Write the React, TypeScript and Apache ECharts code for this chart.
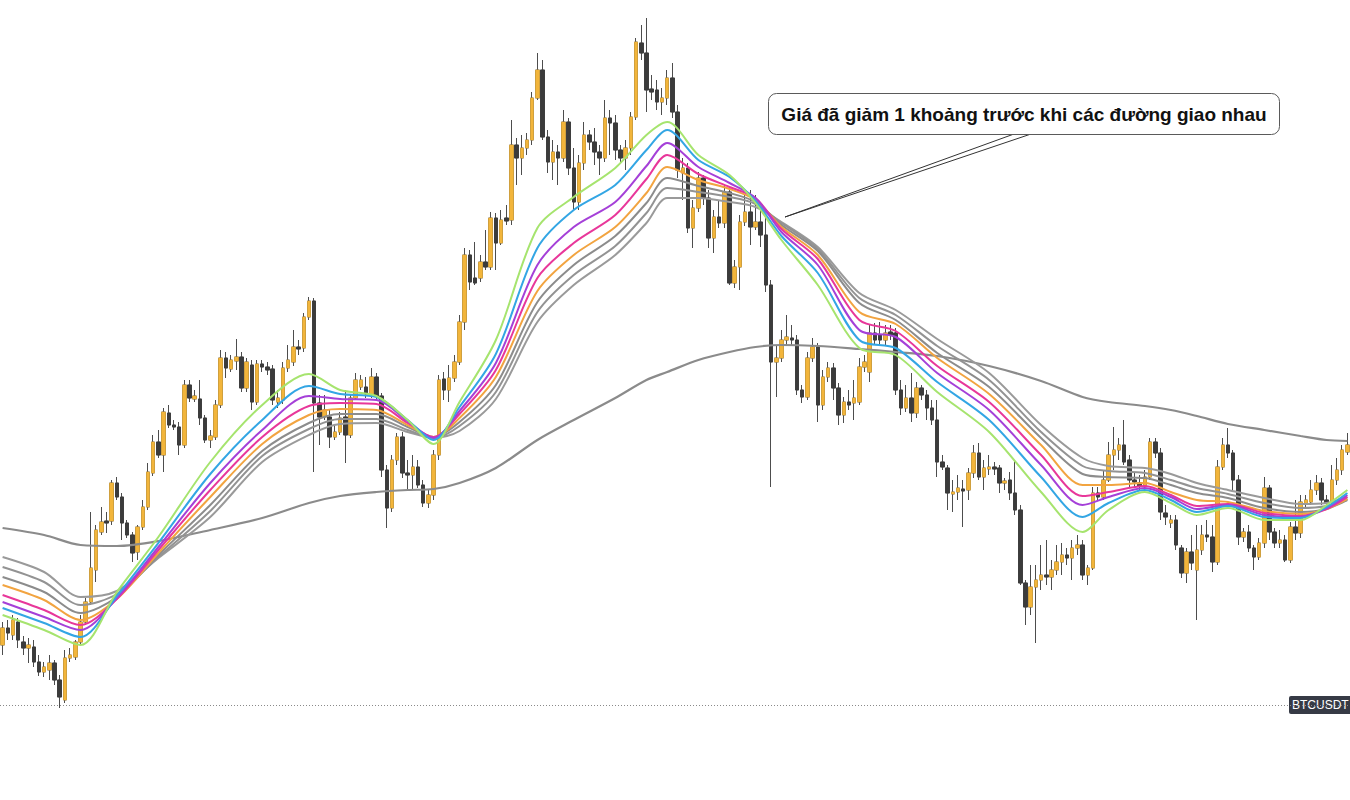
import React, { useEffect, useRef } from "react";
import * as echarts from "echarts";

// Candles: [open, close, low, high]
const candles: number[][] = [
  [155,172,145,178],[172,167,160,180],[165,180,160,185],[178,160,152,182],[158,152,145,164],
  [152,155,137,162],[153,138,133,160],[138,128,124,145],[128,133,123,138],[130,137,120,145],
  [137,120,115,140],[120,103,92,125],[100,142,97,150],[142,145,138,152],[143,158,140,160],
  [158,178,155,185],[178,198,175,202],[198,232,195,288],[230,270,218,275],[268,278,265,293],
  [279,277,267,288],[279,317,275,320],[317,303,300,323],[303,277,260,307],[277,265,262,280],
  [265,247,238,268],[248,273,240,275],[273,293,270,300],[293,328,290,337],[327,358,324,365],
  [358,345,342,370],[345,388,328,392],[387,375,372,395],[375,373,370,380],[373,355,345,378],
  [355,415,352,420],[415,402,398,420],[401,404,398,410],[401,382,375,420],[382,360,357,385],
  [360,364,352,370],[363,395,360,400],[395,442,392,450],[442,432,422,448],[431,440,428,445],
  [439,443,430,461],[443,412,408,448],[412,438,408,442],[435,398,390,440],[398,436,395,440],
  [436,433,428,440],[433,430,425,438],[431,400,395,435],[398,402,392,410],[400,432,396,438],
  [432,440,428,455],[438,453,434,470],[453,451,445,460],[452,483,448,487],[483,499,480,503],
  [499,397,328,502],[397,383,355,405],[383,390,380,405],[383,363,352,390],[363,368,360,375],
  [368,382,365,388],[383,365,337,410],[365,402,362,405],[402,420,400,427],[413,420,410,425],
  [413,406,402,423],[406,423,402,432],[423,404,400,427],[404,330,323,407],[330,292,272,335],
  [292,340,288,345],[340,363,335,367],[363,327,322,368],[327,325,310,340],[325,333,310,345],
  [333,315,312,340],[315,297,293,320],[297,305,292,310],[305,345,300,350],[345,420,340,425],
  [421,410,400,428],[410,422,398,435],[422,438,418,445],[438,478,435,485],[478,545,470,552],
  [545,518,510,550],[522,517,515,558],[522,538,518,545],[538,533,530,570],[533,582,530,588],
  [582,557,530,587],[557,580,555,590],[582,579,575,595],[580,655,575,680],[655,642,615,662],
  [642,652,625,665],[652,660,645,667],[660,702,655,708],[702,730,700,747],[730,663,660,740],
  [663,638,627,670],[638,648,620,660],[648,642,615,655],[642,678,638,690],[678,632,625,682],
  [632,598,590,652],[598,637,590,645],[637,665,630,678],[665,658,650,670],[658,648,635,672],
  [648,642,625,655],[642,682,638,700],[682,677,645,690],[677,650,640,685],[650,642,638,655],
  [642,652,630,660],[652,683,645,688],[683,758,680,762],[757,747,740,775],[747,710,688,782],
  [711,708,700,725],[710,698,690,720],[698,702,685,712],[702,722,695,730],[722,688,682,737],
  [688,630,622,695],[627,632,600,642],[632,572,567,637],[572,592,552,600],[592,622,588,628],
  [622,602,595,625],[602,562,552,610],[562,583,547,590],[583,577,572,600],[577,608,572,615],
  [608,517,515,612],[517,533,512,540],[533,578,510,585],[578,588,574,605],[588,573,555,610],
  [573,578,570,605],[578,565,553,592],[565,515,508,583],[515,438,313,520],[438,442,403,455],
  [442,460,438,470],[460,463,455,485],[462,460,455,475],[460,410,405,465],[410,403,397,415],
  [403,442,400,448],[442,453,438,462],[453,395,378,457],[395,423,390,430],[423,432,418,438],
  [432,412,400,437],[412,385,375,417],[385,398,377,403],[398,395,390,410],[397,402,380,420],
  [398,433,395,442],[433,438,428,445],[428,467,418,475],[467,460,455,477],[465,460,455,478],
  [460,467,455,475],[468,465,460,475],[467,410,405,472],[410,392,385,420],[392,402,388,415],
  [402,387,378,427],[387,412,382,418],[412,405,400,415],[405,392,380,410],[392,380,375,400],
  [380,338,323,400],[338,333,330,345],[332,307,290,335],[306,308,288,320],[308,312,300,325],
  [311,309,273,320],[310,327,300,332],[327,347,322,355],[347,323,320,357],[323,332,310,340],
  [331,333,325,345],[333,331,325,338],[332,317,307,335],[317,319,310,322],[320,307,300,328],
  [307,290,285,340],[290,217,215,295],[217,193,175,220],[193,213,185,235],[213,220,157,235],
  [220,225,210,255],[225,223,215,260],[223,230,210,240],[230,238,225,255],[238,245,225,257],
  [245,242,235,252],[242,252,220,260],[252,255,245,265],[255,225,220,260],[225,232,215,235],
  [232,307,230,313],[307,303,300,313],[303,320,300,330],[320,345,318,358],[345,350,330,373],
  [350,355,340,362],[355,338,335,380],[340,320,312,345],[320,318,312,328],[317,314,310,325],
  [314,323,310,330],[323,358,320,362],[358,347,342,362],[347,288,280,352],[287,283,275,295],
  [277,280,272,285],[280,255,250,285],[252,227,222,255],[227,248,217,252],[248,237,230,265],
  [230,250,180,275],[250,265,245,275],[265,263,258,280],[263,238,228,275],[238,333,235,340],
  [333,355,330,362],[355,347,342,372],[347,320,310,350],[320,263,255,325],[263,268,258,272],
  [268,252,248,275],[252,243,230,255],[243,257,240,262],[257,312,252,323],[312,268,260,315],
  [268,257,252,272],[257,260,252,270],[260,240,238,265],[240,273,237,278],[273,267,260,300],
  [267,298,262,305],[297,300,292,305],[298,310,295,320],[310,317,305,325],[317,300,295,322],
  [300,297,292,305],[298,320,295,335],[320,330,315,342],[330,350,325,355],[348,355,345,367],
];

// Candle indices at which the moving-average lines were read
const sampleIdx = [0,8,15,22,30,40,50,59,65,72,78,83,88,95,103,110,118,124,128,134,140,145,150,157,165,172,180,190,200,208,213,220,225,230,236,243,250,255,259];

const emaGreen  = [185,170,155,208,263,338,395,426,410,404,380,356,398,460,572,603,632,665,678,645,625,597,560,515,452,445,408,368,308,268,290,308,297,285,292,280,280,295,310];
const emaBlue   = [192,177,163,204,257,326,380,414,406,403,380,360,393,446,552,590,615,650,670,640,623,599,564,527,460,452,418,380,323,283,297,310,300,288,294,283,282,293,307];
const emaPurple = [198,183,170,202,253,317,370,404,401,400,379,362,389,437,535,573,598,634,657,633,617,602,568,535,470,463,427,390,335,295,303,312,303,291,295,285,283,292,305];
const emaPink   = [205,190,175,201,250,310,363,394,397,396,377,363,386,430,522,557,585,621,645,626,613,602,571,541,480,469,434,398,345,304,308,314,305,294,296,287,284,291,303];
const emaOrange = [215,200,180,201,247,303,356,385,391,390,375,363,382,423,509,545,573,607,633,620,611,600,573,545,488,476,442,406,355,315,315,317,308,300,298,289,286,291,301];
const emaGray1  = [223,208,187,203,245,295,349,377,386,386,373,363,378,415,498,535,564,597,622,614,607,598,575,549,497,480,447,413,362,326,323,322,315,307,302,292,288,291,300];
const emaGray2  = [233,218,195,206,243,289,344,371,381,381,370,362,374,408,488,525,554,587,612,608,603,596,577,551,502,485,454,420,368,334,329,327,320,312,306,297,292,294,301];
const emaGray3  = [243,228,203,209,242,283,338,365,376,377,368,362,369,401,478,515,545,577,602,602,598,593,578,553,507,490,461,427,375,342,334,332,326,317,310,302,296,297,303];
const ma200     = [272,265,255,254,259,270,282,297,304,308,310,311,317,332,360,380,402,420,428,440,448,453,455,454,451,448,444,434,419,403,398,394,390,384,376,370,364,360,359];

const annotationText = "Giá đã giảm 1 khoảng trước khi các đường giao nhau";
const symbolLabel = "BTCUSDT";
const priceLineValue = 95;

const UP = "#f2b53b";
const DOWN = "#3b3b3b";
const WICK = "#4d4d4d";

export default function App() {
  const ref = useRef<HTMLDivElement>(null);

  useEffect(() => {
    document.body.style.margin = "0";
    const chart = echarts.init(ref.current!, null, { renderer: "svg" });
    const cats = candles.map((_, i) => String(i));
    const bodies = candles.map(([o, c]) => [o, c, Math.min(o, c), Math.max(o, c)]);

    const lines = [
      { name: "MA 200", data: ma200, color: "#8b8b8b", width: 2.2 },
      { name: "EMA 55", data: emaGray3, color: "#9a9a9a", width: 2 },
      { name: "EMA 50", data: emaGray2, color: "#939393", width: 2 },
      { name: "EMA 45", data: emaGray1, color: "#8c8c8c", width: 2 },
      { name: "EMA 40", data: emaOrange, color: "#f2a440", width: 2 },
      { name: "EMA 35", data: emaPink, color: "#e8379a", width: 2 },
      { name: "EMA 30", data: emaPurple, color: "#a540d8", width: 2 },
      { name: "EMA 25", data: emaBlue, color: "#33a6e4", width: 2 },
      { name: "EMA 20", data: emaGreen, color: "#a6e46e", width: 2 },
    ];

    chart.setOption({
      animation: false,
      grid: { left: 0, right: 0, top: 0, bottom: 0 },
      xAxis: { type: "category", data: cats, show: false, boundaryGap: true },
      yAxis: { type: "value", min: 0, max: 800, show: false, splitLine: { show: false } },
      series: [
        {
          type: "candlestick",
          name: "wicks",
          data: candles,
          barWidth: 4,
          silent: true,
          itemStyle: { color: WICK, color0: WICK, borderColor: WICK, borderColor0: WICK, borderWidth: 1 },
          markLine: {
            silent: true,
            symbol: ["none", "none"],
            data: [{ yAxis: priceLineValue }],
            lineStyle: { color: "#8a8a8a", type: [1, 2], width: 1 },
            label: { show: false },
          },
        },
        {
          type: "candlestick",
          name: symbolLabel,
          data: bodies,
          barWidth: 4,
          silent: true,
          itemStyle: { color: UP, color0: DOWN, borderColor: UP, borderColor0: DOWN, borderWidth: 0.6 },
        },
        ...lines.map((l) => ({
          type: "line",
          name: l.name,
          data: sampleIdx.map((x, k) => [x, l.data[k]]),
          smooth: 0.3,
          showSymbol: false,
          symbol: "none",
          silent: true,
          lineStyle: { color: l.color, width: l.width },
        })),
      ],
    });

    const py = chart.convertToPixel({ yAxisIndex: 0 }, priceLineValue) as number;
    chart.setOption({
      graphic: [
        {
          type: "group",
          z: 100,
          children: [
            {
              type: "polyline",
              shape: { points: [[1014, 134], [785, 217], [1031, 134]] },
              style: { stroke: "#333", lineWidth: 1, fill: "none" },
            },
            {
              type: "rect",
              shape: { x: 768.5, y: 93.5, width: 511, height: 41, r: 8 },
              style: { fill: "#fff", stroke: "#5a5a5a", lineWidth: 1 },
            },
            {
              type: "text",
              x: 1024,
              y: 114,
              style: {
                text: annotationText,
                fill: "#111",
                font: "bold 19px 'Liberation Sans', Arial, sans-serif",
                textAlign: "center",
                textVerticalAlign: "middle",
              },
            },
            {
              type: "rect",
              shape: { x: 1289, y: py - 9, width: 63, height: 18, r: 2 },
              style: { fill: "#363a45" },
            },
            {
              type: "text",
              x: 1292,
              y: py,
              style: {
                text: symbolLabel,
                fill: "#ffffff",
                font: "12px 'Liberation Sans', Arial, sans-serif",
                textAlign: "left",
                textVerticalAlign: "middle",
              },
            },
          ],
        },
      ],
    });

    return () => chart.dispose();
  }, []);

  return (
    <div
      ref={ref}
      style={{ position: "fixed", left: 0, top: 0, width: 1350, height: 800, background: "#fff" }}
    />
  );
}
